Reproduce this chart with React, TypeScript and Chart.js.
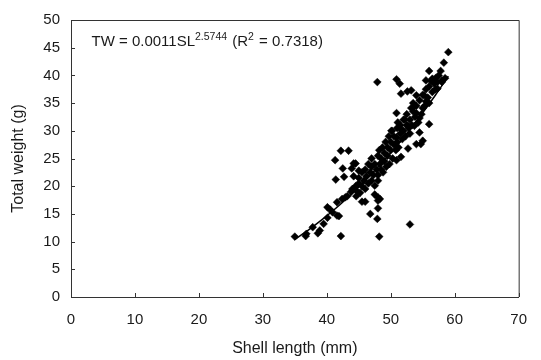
import React, { useEffect, useRef } from 'react';
import { Chart, registerables } from 'chart.js';

Chart.register(...registerables);

// Scatter observations (shell length mm, total weight g)
const shellLength = [
  35.0, 36.7, 36.8, 37.8, 38.6, 38.9, 40.1, 40.1, 40.9, 41.6, 41.9, 40.5, 42.2, 41.6, 42.4, 42.9, 43.2, 41.3, 42.5, 43.9,
  41.4, 42.7, 44.2, 42.2, 43.4, 44.5, 44.2, 48.2, 53.0, 45.5, 46.0, 47.5, 48.0, 46.8, 48.0, 47.9, 48.3, 47.5, 39.5, 43.8,
  44.0, 44.5, 44.8, 45.0, 45.0, 45.2, 45.5, 45.5, 45.8, 46.0, 46.0, 46.2, 46.5, 46.5, 46.8, 47.0, 47.0, 47.0, 47.3, 47.5,
  47.8, 48.0, 48.0, 48.0, 48.2, 48.3, 48.5, 48.5, 48.7, 48.8, 49.0, 49.0, 49.2, 49.3, 49.5, 49.5, 49.7, 49.8, 50.0, 50.0,
  50.2, 50.3, 50.5, 50.5, 50.8, 51.0, 51.0, 51.2, 51.5, 51.5, 51.8, 52.0, 52.0, 52.3, 52.5, 52.5, 52.8, 53.0, 53.0, 53.3,
  53.5, 53.5, 53.8, 54.0, 54.3, 54.5, 54.8, 55.0, 55.3, 55.5, 55.8, 56.0, 56.0, 56.3, 56.5, 56.8, 57.0, 57.0, 57.3, 57.5,
  58.0, 58.5, 59.0, 58.3, 56.0, 57.8, 55.5, 56.5, 58.0, 57.3, 54.0, 55.2, 55.5, 55.0, 54.0, 53.4, 56.0, 54.5, 53.7, 54.5,
  55.0, 47.9, 50.9, 51.4, 51.6, 52.6, 53.2, 50.9, 53.2, 51.1, 52.2, 50.1, 51.6, 52.7, 54.0, 54.7, 52.7, 50.9, 51.6, 50.9,
  48.0, 45.0, 44.6,
];
const totalWeight = [
  10.9, 11.0, 11.4, 12.6, 11.5, 12.0, 14.3, 16.2, 15.3, 14.7, 14.6, 15.8, 11.0, 17.1, 17.7, 18.0, 18.2, 24.7, 23.2, 23.2,
  21.2, 21.7, 24.1, 26.4, 26.4, 24.1, 21.8, 10.9, 13.1, 17.2, 17.2, 18.5, 17.4, 15.0, 16.0, 14.1, 17.7, 20.1, 13.2, 19.0,
  19.5, 20.0, 19.0, 20.5, 21.5, 18.8, 20.0, 22.5, 21.0, 19.5, 23.0, 21.8, 20.5, 24.0, 22.5, 21.0, 23.5, 25.0, 22.0, 24.0,
  23.0, 25.5, 22.0, 21.0, 26.5, 24.0, 23.0, 25.0, 27.0, 22.5, 24.5, 26.0, 28.0, 23.5, 25.5, 27.0, 29.0, 24.0, 26.5, 28.0,
  30.0, 25.0, 27.5, 29.0, 26.5, 28.0, 30.5, 27.0, 29.5, 31.0, 28.5, 30.0, 32.0, 29.0, 31.0, 33.0, 30.5, 32.0, 29.5, 31.0,
  33.5, 35.0, 32.5, 34.5, 31.5, 35.5, 33.0, 36.5, 34.5, 37.5, 36.0, 38.0, 35.0, 39.0, 37.0, 38.5, 39.5, 37.5, 38.8, 40.0,
  38.8, 39.5, 44.2, 42.3, 40.8, 40.8, 39.1, 39.4, 39.1, 37.6, 36.4, 36.4, 35.3, 34.1, 33.2, 34.1, 31.2, 32.3, 30.9, 29.7,
  28.2, 38.8, 39.3, 38.5, 36.7, 37.1, 37.3, 33.2, 34.1, 31.5, 32.0, 30.0, 30.3, 30.9, 27.6, 27.6, 26.8, 24.7, 25.3, 28.8,
  18.0, 22.8, 18.2,
];

// Fitted power curve
const fitLength = [35, 37, 39, 41, 43, 45, 47, 49, 51, 53, 55, 57, 59];
const fitWeight = [10.39, 11.98, 13.73, 15.61, 17.65, 19.84, 22.19, 24.71, 27.39, 30.24, 33.27, 36.47, 39.86];

const xTickValues = [0, 10, 20, 30, 40, 50, 60, 70];
const yTickValues = [0, 5, 10, 15, 20, 25, 30, 35, 40, 45, 50];

const xTitle = 'Shell length (mm)';
const yTitle = 'Total weight (g)';
const equationParts = [
  { text: 'TW = 0.0011SL', sup: false },
  { text: '2.5744', sup: true },
  { text: ' (R', sup: false },
  { text: '2', sup: true },
  { text: ' = 0.7318)', sup: false },
];

const FONT = '"Liberation Sans", Arial, sans-serif';
const INK = '#1a1a1a';

const framePlugin = {
  id: 'frameAndTicks',
  afterDraw(chart: any) {
    const { ctx, chartArea: a, scales } = chart;
    const xs = scales.x;
    const ys = scales.y;
    ctx.save();
    ctx.strokeStyle = '#333';
    ctx.lineWidth = 1;
    ctx.beginPath();
    ctx.moveTo(a.left, a.top + 0.5);
    ctx.lineTo(a.right + 0.5, a.top + 0.5);
    ctx.lineTo(a.right + 0.5, a.bottom);
    ctx.stroke();
    // inward tick marks
    ctx.beginPath();
    xTickValues.forEach((v) => {
      const px = Math.round(xs.getPixelForValue(v)) + 0.5;
      ctx.moveTo(px, a.bottom);
      ctx.lineTo(px, a.bottom - 4);
    });
    yTickValues.forEach((v) => {
      const py = Math.round(ys.getPixelForValue(v)) + 0.5;
      ctx.moveTo(a.left, py);
      ctx.lineTo(a.left + 4, py);
    });
    ctx.stroke();

    // equation text
    let x = xs.getPixelForValue(3.2);
    const base = ys.getPixelForValue(45.3);
    ctx.fillStyle = INK;
    ctx.textBaseline = 'alphabetic';
    ctx.textAlign = 'left';
    equationParts.forEach((p) => {
      ctx.font = p.sup ? `10.5px ${FONT}` : `15px ${FONT}`;
      const y = p.sup ? base - 6.5 : base;
      ctx.fillText(p.text, x, y);
      x += ctx.measureText(p.text).width + (p.sup ? 1 : 0);
    });
    ctx.restore();
  },
};

export default function App() {
  const ref = useRef<HTMLCanvasElement | null>(null);

  useEffect(() => {
    if (!ref.current) return;
    const points = shellLength.map((x, i) => ({ x, y: totalWeight[i] }));
    const fit = fitLength.map((x, i) => ({ x, y: fitWeight[i] }));
    const chart = new Chart(ref.current, {
      type: 'scatter',
      data: {
        datasets: [
          {
            type: 'line',
            data: fit,
            borderColor: '#000',
            borderWidth: 1.5,
            pointRadius: 0,
            fill: false,
            tension: 0.3,
            order: 0,
          } as any,
          {
            data: points,
            pointStyle: 'rectRot',
            pointRadius: 3.9,
            pointBackgroundColor: '#000',
            pointBorderColor: '#000',
            pointBorderWidth: 0.5,
            order: 1,
          },
        ],
      },
      options: {
        animation: false,
        responsive: false,
        devicePixelRatio: 1,
        layout: { padding: { left: 0, top: 13, right: 15, bottom: 0 } },
        plugins: { legend: { display: false }, tooltip: { enabled: false } },
        scales: {
          x: {
            type: 'linear',
            min: 0,
            max: 70,
            afterFit: (s: any) => { s.height = 63; },
            afterBuildTicks: (s: any) => { s.ticks = xTickValues.map((v) => ({ value: v })); },
            ticks: { color: INK, font: { family: FONT, size: 15 }, padding: 14, maxRotation: 0 },
            grid: { display: false, drawTicks: false },
            border: { display: true, color: '#333', width: 1 },
            title: { display: true, text: xTitle, color: INK, font: { family: FONT, size: 16 }, padding: { top: 0, bottom: 2 } },
          },
          y: {
            type: 'linear',
            min: 0,
            max: 50,
            afterFit: (s: any) => { s.width = 71; },
            afterBuildTicks: (s: any) => { s.ticks = yTickValues.map((v) => ({ value: v })); },
            ticks: { color: INK, font: { family: FONT, size: 15 }, padding: 11 },
            grid: { display: false, drawTicks: false },
            border: { display: true, color: '#333', width: 1 },
            title: { display: true, text: yTitle, color: INK, font: { family: FONT, size: 16 }, padding: { top: 9, bottom: 0 } },
          },
        },
      },
      plugins: [framePlugin],
    });
    return () => chart.destroy();
  }, []);

  return (
    <div style={{ position: 'absolute', left: 0, top: 0, width: 541, height: 360, background: '#fff' }}>
      <canvas ref={ref} width={541} height={360} />
    </div>
  );
}
